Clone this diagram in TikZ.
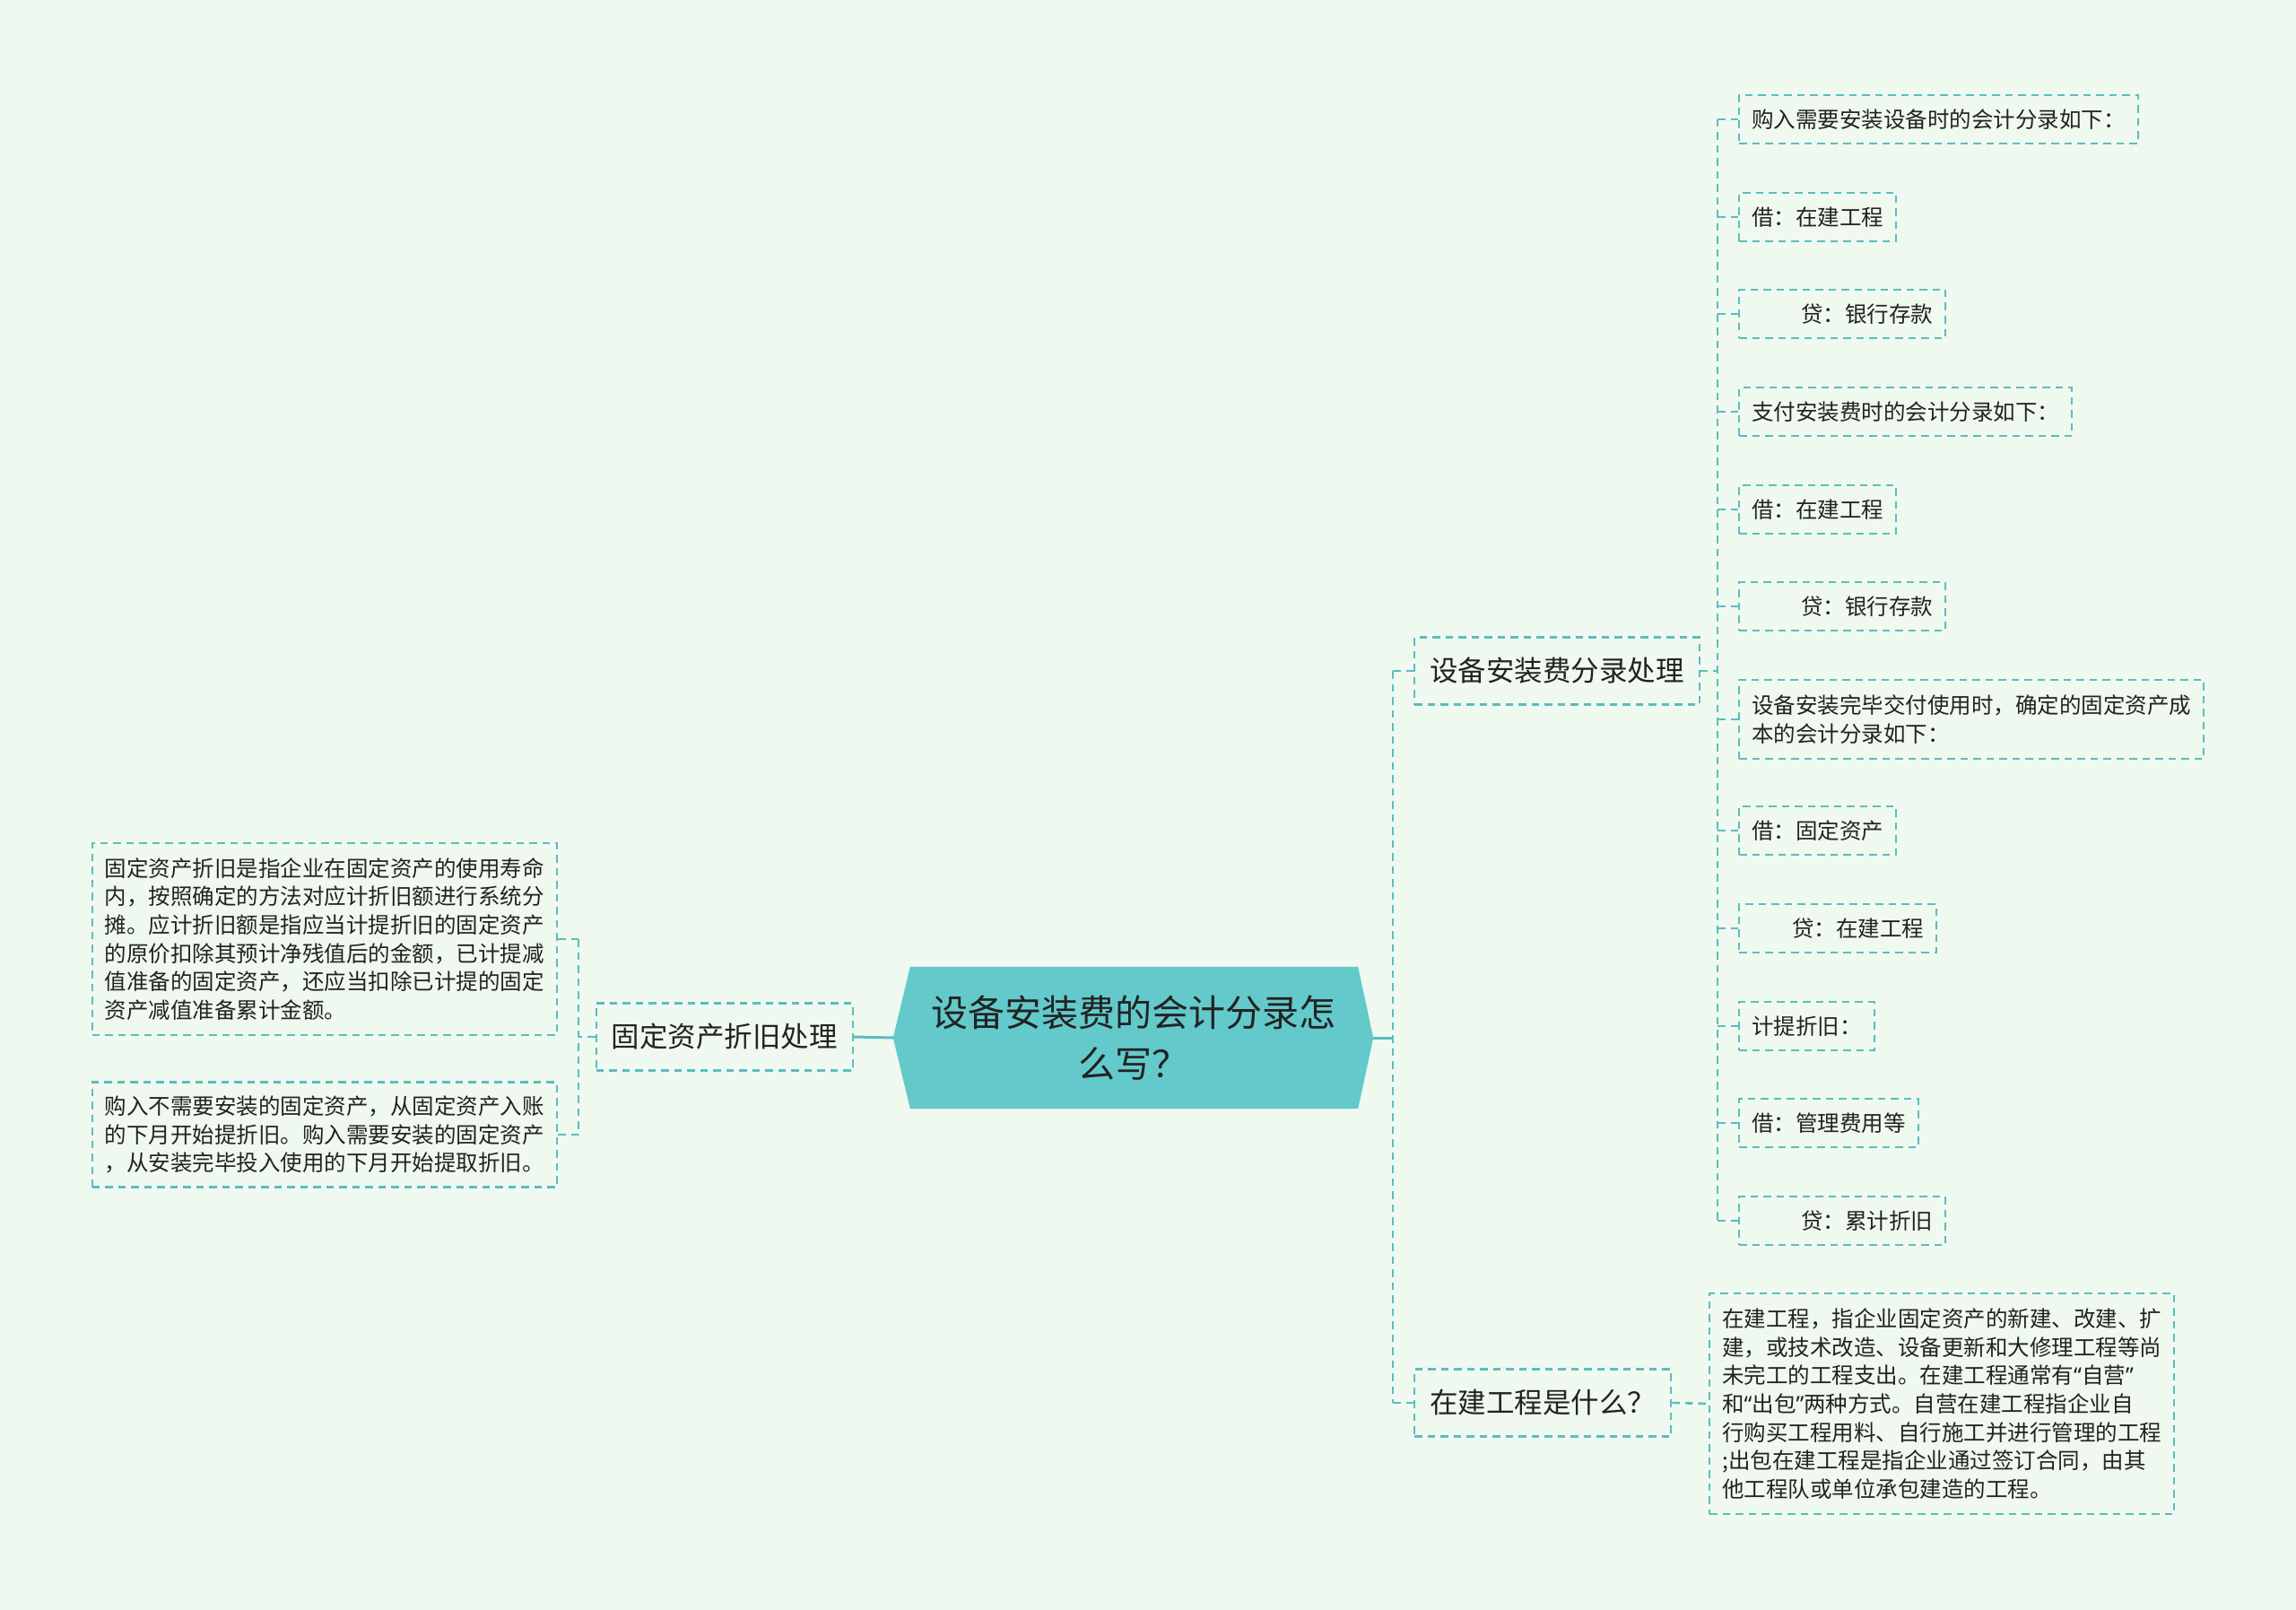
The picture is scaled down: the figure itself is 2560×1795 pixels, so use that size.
\documentclass[tikz,border=0pt]{standalone}
\usepackage{fontspec}
\newfontfamily\cjk{Noto Sans CJK SC}
\newfontfamily\lat{Noto Sans}
\newcommand{\myopq}{{\lat “}}
\newcommand{\myclq}{{\lat ”}}
\usetikzlibrary{backgrounds}
\definecolor{bgc}{HTML}{F0F9F0}
\definecolor{linec}{HTML}{5CBCC0}
\definecolor{rootc}{HTML}{63C9CB}
\definecolor{txt}{HTML}{222222}
\begin{document}
\begin{tikzpicture}[x=1pt,y=-1pt,
  leaf/.style={draw=linec, line width=2.4pt, dash pattern=on 8.5pt off 6pt,
    font=\cjk\fontsize{24.5}{31.7}\selectfont, text=txt, inner xsep=14pt,
    inner ysep=6pt, minimum height=54pt, align=left, anchor=west},
  mid/.style={draw=linec, line width=2.4pt, dash pattern=on 8.5pt off 6pt,
    font=\cjk\fontsize{31.5}{38}\selectfont, text=txt, inner xsep=17pt,
    inner ysep=6pt, minimum height=75pt, anchor=west},
  rootnode/.style={font=\cjk\fontsize{41}{57}\selectfont, text=txt,
    minimum width=535pt, minimum height=158pt, align=center, inner sep=0pt},
  solidconn/.style={draw=linec, line width=3pt},
  conn/.style={draw=linec, line width=2.6pt, dash pattern=on 8.5pt off 6pt}]
\useasboundingbox (0,0) rectangle (2560,1795);

% central
\node[rootnode] (root) at (1263.5,1157) {设备安装费的会计分录怎\\么写？};
\begin{scope}[on background layer]
\fill[bgc] (0,0) rectangle (2560,1795);
\fill[rootc] ([xshift=19pt]root.north west) -- ([xshift=-17pt]root.north east)
  -- (root.east) -- ([xshift=-17pt]root.south east)
  -- ([xshift=19pt]root.south west) -- (root.west) -- cycle;
\end{scope}

% level 1
\node[mid] (m1) at (1576,748) {设备安装费分录处理};
\node[mid] (m2) at (1576,1564) {在建工程是什么？};
\node[mid, anchor=east] (l1) at (952,1156) {固定资产折旧处理};

% left children
\node[leaf, anchor=east, minimum height=214pt] (c1) at (622,1047)
  {固定资产折旧是指企业在固定资产的使用寿命\\内，按照确定的方法对应计折旧额进行系统分\\摊。应计折旧额是指应当计提折旧的固定资产\\的原价扣除其预计净残值后的金额，已计提减\\值准备的固定资产，还应当扣除已计提的固定\\资产减值准备累计金额。};
\node[leaf, anchor=east, minimum height=117pt] (c2) at (622,1265)
  {购入不需要安装的固定资产，从固定资产入账\\的下月开始提折旧。购入需要安装的固定资产\\，从安装完毕投入使用的下月开始提取折旧。};

% right children of m1
\node[leaf] (a1) at (1938,133) {购入需要安装设备时的会计分录如下：};
\node[leaf] (a2) at (1938,242) {借：在建工程};
\node[leaf] (a3) at (1938,350) {\hspace*{55pt}贷：银行存款};
\node[leaf] (a4) at (1938,459) {支付安装费时的会计分录如下：};
\node[leaf] (a5) at (1938,568) {借：在建工程};
\node[leaf] (a6) at (1938,676) {\hspace*{55pt}贷：银行存款};
\node[leaf, minimum height=88pt] (a7) at (1938,802) {设备安装完毕交付使用时，确定的固定资产成\\本的会计分录如下：};
\node[leaf] (a8) at (1938,926) {借：固定资产};
\node[leaf] (a9) at (1938,1035) {\hspace*{45pt}贷：在建工程};
\node[leaf] (a10) at (1938,1144) {计提折旧：};
\node[leaf] (a11) at (1938,1252) {借：管理费用等};
\node[leaf] (a12) at (1938,1361) {\hspace*{55pt}贷：累计折旧};

% right child of m2
\node[leaf, minimum height=246pt] (z) at (1905,1565)
  {在建工程，指企业固定资产的新建、改建、扩\\建，或技术改造、设备更新和大修理工程等尚\\未完工的工程支出。在建工程通常有\myopq 自营\myclq\\和\myopq 出包\myclq 两种方式。自营在建工程指企业自\\行购买工程用料、自行施工并进行管理的工程\\;出包在建工程是指企业通过签订合同，由其\\他工程队或单位承包建造的工程。};

% trunks
\coordinate (tR) at (1553,0);
\coordinate (tL) at (645,0);
\coordinate (tA) at (1915,0);

% root to right
\draw[solidconn] (root.east) -- (tR |- root.east);
\draw[conn] (tR |- m1.west) -- (tR |- m2.west);
\draw[conn] (tR |- m1.west) -- (m1.west);
\draw[conn] (tR |- m2.west) -- (m2.west);

% root to left
\draw[solidconn] (root.west) -- (l1.east);
\draw[conn] (l1.west) -- (tL |- l1.west);
\draw[conn] (tL |- c1.east) -- (tL |- c2.east);
\draw[conn] (tL |- c1.east) -- (c1.east);
\draw[conn] (tL |- c2.east) -- (c2.east);

% m1 children
\draw[conn] (m1.east) -- (tA |- m1.east);
\draw[conn] (tA |- a1.west) -- (tA |- a12.west);
\foreach \n in {a1,a2,a3,a4,a5,a6,a7,a8,a9,a10,a11,a12}
  \draw[conn] (tA |- \n.west) -- (\n.west);

% m2 child
\draw[conn] (m2.east) -- (z.west);
\end{tikzpicture}
\end{document}
